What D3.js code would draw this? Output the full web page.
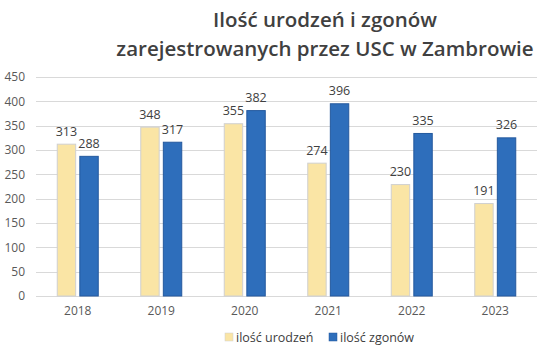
<!DOCTYPE html>
<html>
<head>
<meta charset="utf-8">
<script src="https://cdn.jsdelivr.net/npm/d3@7"></script>
<style>
  body { margin: 0; background: #fff; }
  #chart { width: 550px; height: 352px; }
  text { font-family: "Open Sans", "Noto Sans", sans-serif; }
</style>
</head>
<body>
<div id="chart"></div>
<script>
// Chart data
const years = ['2018', '2019', '2020', '2021', '2022', '2023'];
const births = [313, 348, 355, 274, 230, 191];
const deaths = [288, 317, 382, 396, 335, 326];
const seriesNames = ['ilość urodzeń', 'ilość zgonów'];
const yTicks = [0, 50, 100, 150, 200, 250, 300, 350, 400, 450];

const width = 550;
const height = 352;
const margin = { top: 77, right: 13, bottom: 56, left: 36 };

const colors = ['#FAE5A5', '#2E6EBB'];
const strokes = ['#D0D0D0', '#24599E'];

const svg = d3.select('#chart')
  .append('svg')
  .attr('width', width)
  .attr('height', height);

// Title
const title = svg.append('text')
  .attr('text-anchor', 'middle')
  .attr('fill', '#404040')
  .attr('font-size', 20.5)
  .attr('font-weight', 600);
title.append('tspan').attr('x', 325).attr('y', 27).text('Ilość urodzeń i zgonów');
title.append('tspan').attr('x', 325).attr('y', 56).text('zarejestrowanych przez USC w Zambrowie');

const x = d3.scaleBand()
  .domain(years)
  .range([margin.left, width - margin.right]);

const xInner = d3.scaleBand()
  .domain([0, 1])
  .range([x.bandwidth() / 2 - 21, x.bandwidth() / 2 + 21])
  .paddingInner(0.14);

const y = d3.scaleLinear()
  .domain([0, 450])
  .range([height - margin.bottom, margin.top]);

// Gridlines
svg.append('g')
  .selectAll('line')
  .data(yTicks)
  .join('line')
  .attr('x1', margin.left)
  .attr('x2', width - margin.right)
  .attr('y1', d => Math.round(y(d)) + 0.5)
  .attr('y2', d => Math.round(y(d)) + 0.5)
  .attr('stroke', '#D9D9D9')
  .attr('stroke-width', 1);

// Y axis labels
const yAxis = svg.append('g')
  .attr('transform', `translate(${margin.left},0)`)
  .call(d3.axisLeft(y).tickValues(yTicks).tickSize(0).tickPadding(11));
yAxis.select('.domain').remove();
yAxis.selectAll('text')
  .attr('fill', '#595959')
  .attr('font-size', 12)
  .attr('font-family', '"Open Sans", sans-serif');

// X axis labels
const xAxis = svg.append('g')
  .attr('transform', `translate(0,${height - margin.bottom})`)
  .call(d3.axisBottom(x).tickSize(0).tickPadding(10));
xAxis.select('.domain').remove();
xAxis.selectAll('text')
  .attr('fill', '#595959')
  .attr('font-size', 12)
  .attr('font-family', '"Open Sans", sans-serif');

// Bars
const rows = years.map((yr, i) => ({ year: yr, values: [births[i], deaths[i]] }));

const groups = svg.append('g')
  .selectAll('g')
  .data(rows)
  .join('g')
  .attr('transform', d => `translate(${x(d.year)},0)`);

groups.selectAll('rect')
  .data(d => d.values.map((v, k) => ({ k, v })))
  .join('rect')
  .attr('x', d => xInner(d.k) + 0.5)
  .attr('y', d => y(d.v) + 0.5)
  .attr('width', xInner.bandwidth() - 1)
  .attr('height', d => y(0) - y(d.v) - 0.5)
  .attr('fill', d => colors[d.k])
  .attr('stroke', d => strokes[d.k])
  .attr('stroke-width', 1);

// Value labels
groups.selectAll('text.value')
  .data(d => d.values.map((v, k) => ({ k, v })))
  .join('text')
  .attr('class', 'value')
  .attr('x', d => xInner(d.k) + xInner.bandwidth() / 2)
  .attr('y', d => y(d.v) - 8)
  .attr('text-anchor', 'middle')
  .attr('fill', '#404040')
  .attr('font-size', 12.5)
  .text(d => d.v);

// Legend
const legend = svg.append('g')
  .attr('transform', `translate(0,${height - 14})`);
const legendX = [225, 329];
seriesNames.forEach((name, k) => {
  legend.append('rect')
    .attr('x', legendX[k])
    .attr('y', -5)
    .attr('width', 8)
    .attr('height', 8)
    .attr('fill', colors[k])
    .attr('stroke', strokes[k])
    .attr('stroke-width', 0.5);
  legend.append('text')
    .attr('x', legendX[k] + 11)
    .attr('y', 4)
    .attr('fill', '#404040')
    .attr('font-size', 12.5)
    .text(name);
});
</script>
</body>
</html>
